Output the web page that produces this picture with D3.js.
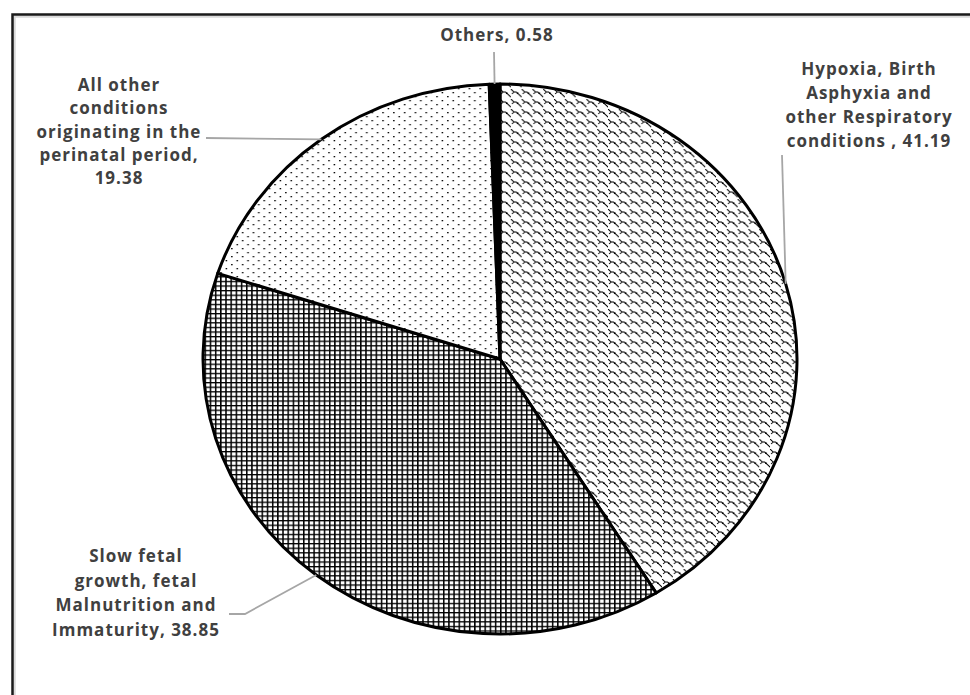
<!DOCTYPE html>
<html><head><meta charset="utf-8">
<script src="https://cdn.jsdelivr.net/npm/d3@7"></script>
<style>body{margin:0;background:#fff}svg{display:block}</style>
</head><body>
<svg id="c" width="970" height="695"></svg>
<script>
// ---- data ----
const categories = [
  "Hypoxia, Birth Asphyxia and other Respiratory conditions",
  "Slow fetal growth, fetal Malnutrition and Immaturity",
  "All other conditions originating in the perinatal period",
  "Others"
];
const values = [41.19, 38.85, 19.38, 0.58];
const labelLines = [
  ["Hypoxia, Birth", "Asphyxia and", "other Respiratory", "conditions , 41.19"],
  ["Slow fetal", "growth, fetal", "Malnutrition and", "Immaturity, 38.85"],
  ["All other", "conditions", "originating in the", "perinatal period,", "19.38"],
  ["Others, 0.58"]
];

// ---- layout ----
const cx = 500, cy = 359, rx = 297, ry = 275;
const labelLayout = [
  {x: 869, y: 75, lh: 24, leader: [[782, 155]]},
  {x: 136, y: 562, lh: 24.5, leader: [[229, 614], [245, 614]]},
  {x: 119, y: 91, lh: 23.3, leader: [[206, 138]]},
  {x: 497, y: 41, lh: 23, leader: [[494, 52]]}
];
const fills = ["url(#pWave)", "url(#pGrid)", "url(#pDots)", "#000"];

const svg = d3.select("#c");
const defs = svg.append("defs");

// wave / chain pattern
const pw = defs.append("pattern").attr("id", "pWave").attr("patternUnits", "userSpaceOnUse")
  .attr("width", 10).attr("height", 10);
pw.append("rect").attr("width", 10).attr("height", 10).attr("fill", "#fff");
pw.append("path").attr("d", "M-1,-1 L3,3 L5,3 L11,9 M3,3 L1,5")
  .attr("stroke", "#000").attr("stroke-width", 1).attr("fill", "none");
pw.append("rect").attr("x", 5.5).attr("y", 3.5).attr("width", 1.5).attr("height", 1.5).attr("fill", "#000");

// grid pattern
const pg = defs.append("pattern").attr("id", "pGrid").attr("patternUnits", "userSpaceOnUse")
  .attr("width", 4.8).attr("height", 4.6);
pg.append("rect").attr("width", 4.8).attr("height", 4.6).attr("fill", "#fff");
pg.append("rect").attr("x", 0).attr("y", 0).attr("width", 1.4).attr("height", 4.6).attr("fill", "#000");
pg.append("rect").attr("x", 0).attr("y", 0).attr("width", 4.8).attr("height", 1.3).attr("fill", "#000");

// dots pattern
const pd = defs.append("pattern").attr("id", "pDots").attr("patternUnits", "userSpaceOnUse")
  .attr("width", 10).attr("height", 8);
pd.append("rect").attr("width", 10).attr("height", 8).attr("fill", "#fff");
pd.append("rect").attr("x", 1).attr("y", 1).attr("width", 1.4).attr("height", 1.3).attr("fill", "#000");
pd.append("rect").attr("x", 6).attr("y", 5).attr("width", 1.4).attr("height", 1.3).attr("fill", "#000");

// frame
svg.append("rect").attr("x", 14.5).attr("y", 16.5).attr("width", 1000).attr("height", 1000)
  .attr("fill", "none").attr("stroke", "#d9d9d9").attr("stroke-width", 2.5);
svg.append("rect").attr("x", 12.5).attr("y", 14.5).attr("width", 1000).attr("height", 1000)
  .attr("fill", "none").attr("stroke", "#1a1a1a").attr("stroke-width", 2.5);

// pie
const pie = d3.pie().sort(null).value(d => d)(values);
const arc = d3.arc().innerRadius(0).outerRadius(ry);
const g = svg.append("g").attr("transform", `translate(${cx},${cy}) scale(${rx / ry},1)`);
g.selectAll("path").data(pie).join("path")
  .attr("d", arc)
  .attr("fill", (d, i) => fills[i])
  .attr("stroke", "#000")
  .attr("stroke-width", 3)
  .attr("stroke-linejoin", "round")
  .attr("vector-effect", "non-scaling-stroke");

// leaders
pie.forEach((d, i) => {
  const a = (d.startAngle + d.endAngle) / 2;
  const end = [cx + rx * Math.sin(a), cy - ry * Math.cos(a)];
  const pts = labelLayout[i].leader.concat([end]);
  svg.append("path").attr("d", d3.line()(pts))
    .attr("fill", "none").attr("stroke", "#a6a6a6").attr("stroke-width", 1.8);
});

// labels
labelLines.forEach((lines, i) => {
  const L = labelLayout[i];
  const t = svg.append("text")
    .attr("text-anchor", "middle")
    .attr("font-family", "'Open Sans', sans-serif")
    .attr("font-weight", 700)
    .attr("font-size", 17)
    .attr("letter-spacing", 1)
    .attr("fill", "#404040");
  lines.forEach((s, k) => {
    t.append("tspan").attr("x", L.x).attr("y", L.y + k * L.lh).text(s);
  });
});
</script>
</body></html>
